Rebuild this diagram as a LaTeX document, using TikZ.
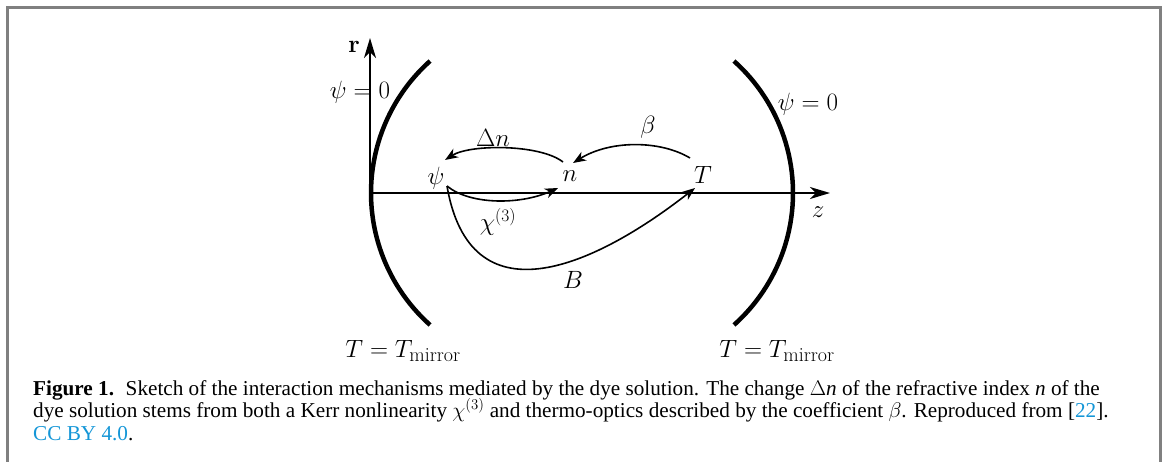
\RequirePackage{fix-cm}
\documentclass[tikz,border=0pt]{standalone}
\usepackage[no-math]{fontspec}
\setmainfont{Liberation Serif}
\newfontfamily\lmrfont{Latin Modern Roman}
\usetikzlibrary{arrows.meta}
\definecolor{framegray}{RGB}{128,128,128}
\definecolor{linkblue}{RGB}{20,150,215}
\newcommand{\mirrorsub}{\mbox{\lmrfont\fontsize{20}{24}\selectfont mirror}}
\tikzset{
  axis/.style={line width=1.7pt, -{Stealth[length=20pt,width=12pt,inset=6pt]}},
  mirror/.style={line width=4.5pt},
  link/.style={line width=1.6pt, -{Stealth[length=13pt,width=10pt,inset=4pt]}},
  lab/.style={inner sep=0pt, font=\fontsize{25}{30}\selectfont},
  captext/.style={inner sep=0pt, anchor=base west, font=\fontsize{21.2}{22}\selectfont},
}
\begin{document}
\begin{tikzpicture}[x=1pt,y=-1pt]
\useasboundingbox (0,0) rectangle (1165,461);
\draw[framegray, line width=3pt] (7,475) -- (7,7) -- (1160,7) -- (1160,475);

% axes
\coordinate (O) at (370,193);
\coordinate (rtip) at (370,38);
\coordinate (ztip) at (830,193);
\draw[axis] (O) -- (rtip);
\draw[axis] (O) -- (ztip);

% mirrors
\draw[mirror] (548,193) ++(131.8:177) arc[start angle=131.8, end angle=228.2, radius=177];
\draw[mirror] (616,193) ++(-48.2:177) arc[start angle=-48.2, end angle=48.2, radius=177];

% labels
\node[lab] (r) at (354,47) {$\mathbf{r}$};
\node[lab] (psi0L) at (360,92) {$\psi = 0$};
\node[lab] (psi0R) at (808,104) {$\psi = 0$};
\node[lab] (z) at (818,212) {$z$};
\node[lab] (psi) at (436,178) {$\psi$};
\node[lab] (n) at (570,176) {$n$};
\node[lab] (T) at (703,175) {$T$};
\node[lab] (dn) at (493,138) {$\Delta n$};
\node[lab] (beta) at (648,127) {$\beta$};
\node[lab] (chi) at (498,222) {$\chi^{(3)}$};
\node[lab] (B) at (573,280) {$B$};
\node[lab] (TmL) at (403,351) {$T = T_{\mirrorsub}$};
\node[lab] (TmR) at (777,351) {$T = T_{\mirrorsub}$};

% connector end points
\coordinate (nOut) at (563,162);
\coordinate (psiIn) at (445,160);
\coordinate (TOut) at (690,158);
\coordinate (nIn) at (573,163);
\coordinate (psiOut) at (447,186);
\coordinate (nBelow) at (558,188);
\coordinate (TIn) at (695,188);

\draw[link] (nOut) .. controls (540,144) and (470,144) .. (psiIn);
\draw[link] (TOut) .. controls (660,140) and (610,140) .. (nIn);
\draw[link] (psiOut) .. controls (470,205) and (520,205) .. (nBelow);
\draw[link] (psiOut) .. controls (470,320) and (590,270) .. (TIn);

% caption
\node[captext] (c1) at (33,395) {\textbf{Figure 1.}\hspace{0.55em}Sketch of the interaction mechanisms mediated by the dye solution. The change $\Delta$\textit{n} of the refractive index \textit{n} of the};
\node[captext] (c2) at (33,417) {dye solution stems from both a Kerr nonlinearity $\chi^{(3)}$ and thermo-optics described by the coefficient $\beta$. Reproduced from [\textcolor{linkblue}{22}].};
\node[captext] (c3) at (33,440) {\textcolor{linkblue}{CC BY 4.0}.};
\end{tikzpicture}
\end{document}
